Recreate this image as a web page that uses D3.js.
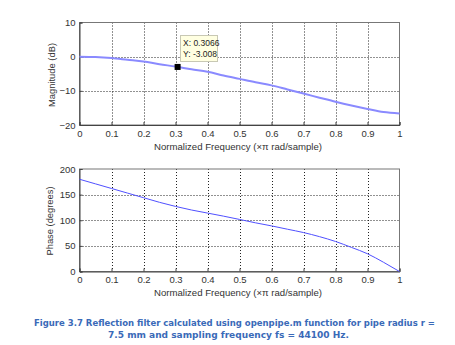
<!DOCTYPE html>
<html><head><meta charset="utf-8">
<script src="https://cdn.jsdelivr.net/npm/d3@7"></script>
<style>body{margin:0;background:#fff;}svg{display:block;}</style>
</head><body>
<script>
const freq = [0,0.05,0.1,0.15,0.2,0.25,0.3,0.35,0.4,0.45,0.5,0.55,0.6,0.65,0.7,0.75,0.8,0.85,0.9,0.95,1.0];
const magnitude = [0,-0.1,-0.4,-0.9,-1.4,-2.2,-2.9,-3.7,-4.4,-5.5,-6.5,-7.5,-8.4,-9.6,-10.8,-12.0,-13.2,-14.3,-15.3,-16.2,-16.6];
const phase = [180,171,162,153,144,135,127,120,114,108,101.6,95,89,82.5,76,68,58.6,47,34.6,18,0];
const xTicks = [0,0.1,0.2,0.3,0.4,0.5,0.6,0.7,0.8,0.9,1];
const magTicks = [-20,-10,0,10];
const phaseTicks = [0,50,100,150,200];
const tipX = 0.3066, tipY = -3.008;
const xLabel = "Normalized Frequency  (\u00d7\u03c0 rad/sample)";
const caption = ["Figure 3.7 Reflection filter calculated using openpipe.m function for pipe radius r =",
                 "7.5 mm and sampling frequency fs = 44100 Hz."];

const W=455,H=345;
const svg=d3.select("body").append("svg").attr("width",W).attr("height",H);
const font="'Liberation Sans', Arial, sans-serif";
const x=d3.scaleLinear().domain([0,1]).range([79.5,399.5]);

function panel(top,bottom,domain,ticks,ylab,ylabX,ylabY,ylabLen,data,color,lw){
  const y=d3.scaleLinear().domain(domain).range([bottom,top]);
  const g=svg.append("g");
  g.selectAll(".gx").data(xTicks.slice(1,-1)).enter().append("line")
    .attr("x1",d=>Math.round(x(d))+0.5).attr("x2",d=>Math.round(x(d))+0.5)
    .attr("y1",top).attr("y2",bottom).attr("stroke","#222").attr("stroke-width",1).attr("stroke-dasharray","1,2");
  g.selectAll(".gy").data(ticks.slice(1,-1)).enter().append("line")
    .attr("x1",x(0)).attr("x2",x(1))
    .attr("y1",d=>Math.round(y(d))+0.5).attr("y2",d=>Math.round(y(d))+0.5)
    .attr("stroke","#222").attr("stroke-width",1).attr("stroke-dasharray","1,2");
  g.append("rect").attr("x",x(0)).attr("y",top).attr("width",x(1)-x(0)).attr("height",bottom-top)
    .attr("fill","none").attr("stroke","#777").attr("stroke-width",1);
  const ax=g.append("g").attr("transform",`translate(0,${bottom})`)
    .call(d3.axisBottom(x).tickValues(xTicks).tickSize(-3).tickPadding(5).tickFormat(d=>d===0||d===1?String(d):d3.format(".1f")(d)));
  const ay=g.append("g").attr("transform",`translate(${x(0)},0)`)
    .call(d3.axisLeft(y).tickValues(ticks).tickSize(-3).tickPadding(4));
  [ax,ay].forEach(a=>{a.select(".domain").attr("stroke","#444");
    a.selectAll(".tick line").attr("stroke","#444");
    a.selectAll("text").attr("font-family",font).attr("font-size","9.5px").attr("fill","#333");});
  ay.selectAll(".tick text").attr("dy","0.32em");
  const line=d3.line().x((d,i)=>x(freq[i])).y(d=>y(d)).curve(d3.curveMonotoneX);
  g.append("path").datum(data).attr("d",line).attr("fill","none").attr("stroke",color).attr("stroke-width",lw);
  g.append("text").attr("x",238).attr("y",bottom+24.5).attr("text-anchor","middle")
    .attr("font-family",font).attr("font-size","9px").attr("fill","#333")
    .attr("textLength",168).attr("lengthAdjust","spacingAndGlyphs").text(xLabel);
  g.append("text").attr("transform",`translate(${ylabX},${ylabY}) rotate(-90)`).attr("text-anchor","middle")
    .attr("font-family",font).attr("font-size","9.5px").attr("fill","#333")
    .attr("textLength",ylabLen).attr("lengthAdjust","spacingAndGlyphs").text(ylab);
  return y;
}

const yMag=panel(22.5,125,[-20,10],magTicks,"Magnitude (dB)",55,75,64,magnitude,"#8a8aff",2);
const yPh=panel(169,271.5,[0,200],phaseTicks,"Phase (degrees)",52.5,221,69,phase,"#5050ff",1);

const tx=x(tipX), ty=yMag(tipY);
svg.append("rect").attr("x",180.5).attr("y",35.5).attr("width",37).attr("height",26)
  .attr("fill","#ffffe1").attr("stroke","#c8c8b4").attr("stroke-width",1);
svg.append("text").attr("x",183).attr("y",46).attr("font-family",font).attr("font-size","8.5px").attr("fill","#222").text("X: "+tipX);
svg.append("text").attr("x",183).attr("y",57).attr("font-family",font).attr("font-size","8.5px").attr("fill","#222").text("Y: "+tipY.toFixed(3));
svg.append("rect").attr("x",tx-3).attr("y",ty-3).attr("width",6).attr("height",6).attr("fill","#000");

const capX=[34,108], capLen=[401,241], capY=[326,337.5];
caption.forEach((c,i)=>{
  svg.append("text").attr("x",capX[i]).attr("y",capY[i])
    .attr("font-family","'DejaVu Sans Condensed', 'DejaVu Sans', Verdana, sans-serif").attr("font-weight","bold").attr("font-size","8.5px")
    .attr("fill","#3a6ab8").attr("textLength",capLen[i]).attr("lengthAdjust","spacingAndGlyphs").text(c);
});
</script>
</body></html>
